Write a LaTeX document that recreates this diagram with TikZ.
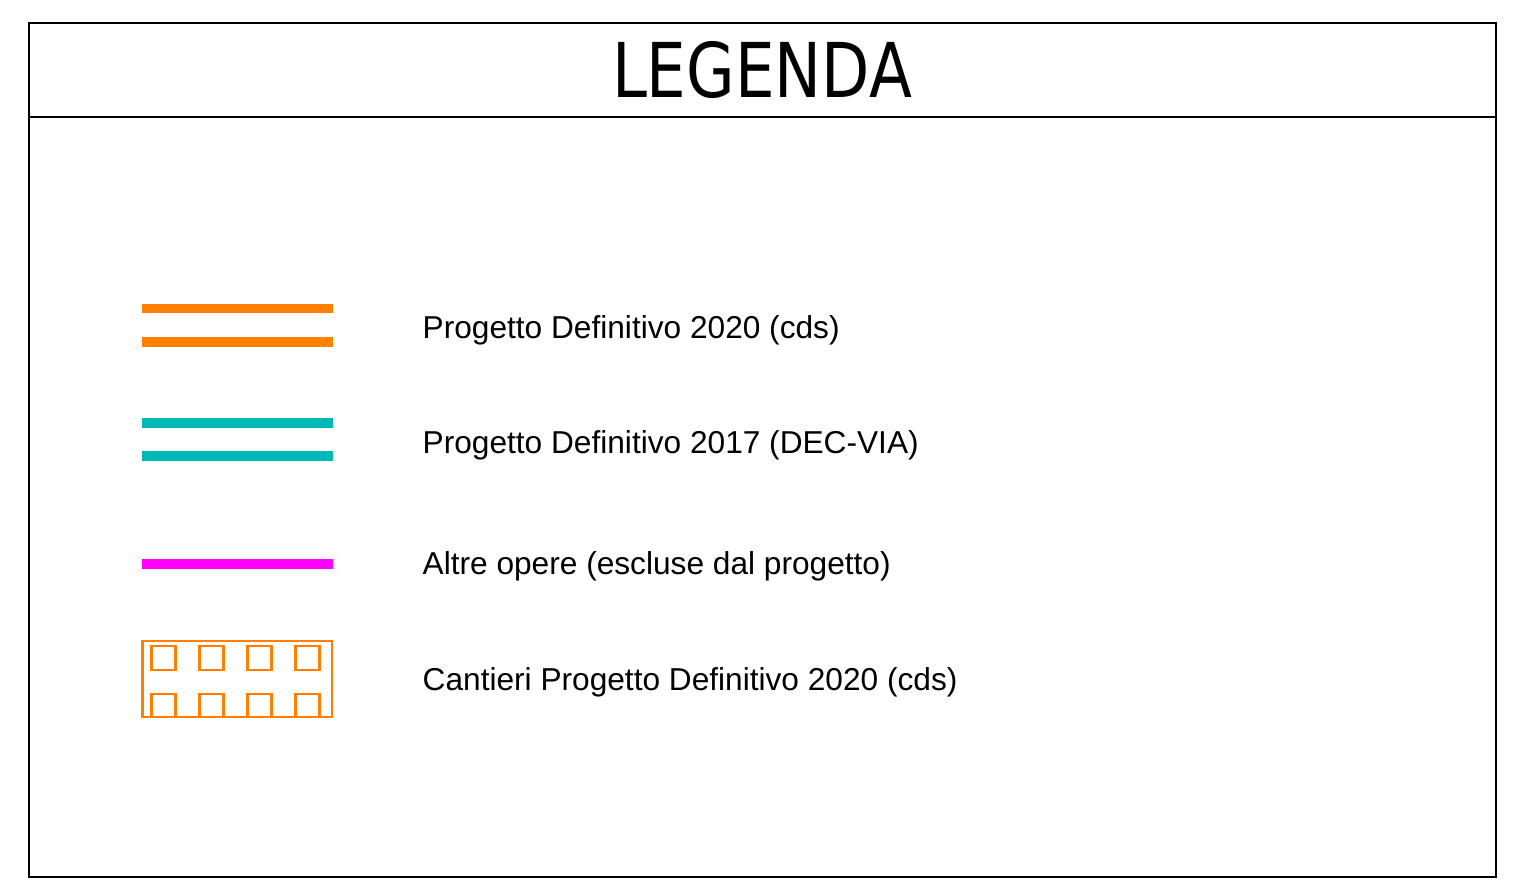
\documentclass[tikz,border=0pt]{standalone}
\usepackage{fontspec}
\setmainfont{Liberation Sans}
\newfontfamily\titlefont{DejaVu Sans}
\usetikzlibrary{positioning}
\definecolor{pd2020}{HTML}{FF7F00}
\definecolor{pd2017}{HTML}{00B8B8}
\definecolor{altre}{HTML}{FF00FF}
\tikzstyle{frame} = [draw=black, line width=0.6pt]
\tikzstyle{entry} = [anchor=base west, inner sep=0pt, font=\fontsize{9}{10}\selectfont]
\tikzstyle{band} = [line width=2.7pt]
\tikzstyle{cell} = [draw=pd2020, line width=0.7pt]

\begin{document}
\begin{tikzpicture}[x=0.01cm, y=-0.01cm]
\useasboundingbox (0,0) rectangle (1530,891);
% Frame and title
\draw [frame] (29,23) rectangle (1496,877);
\draw [line width=0.8pt] (29,117) -- (1496,117);
\node (title) at (762,70) {\titlefont\fontsize{21.5}{24}\selectfont\scalebox{0.83}[1]{LEGENDA}};

% Labels
\node (lab1) [entry] at (422,338) {Progetto Definitivo 2020 (cds)};
\node (lab2) [entry] at (422,453) {Progetto Definitivo 2017 (DEC-VIA)};
\node (lab3) [entry] at (422,574) {Altre opere (escluse dal progetto)};
\node (lab4) [entry] at (422,690) {Cantieri Progetto Definitivo 2020 (cds)};

% Symbols
\draw [band, pd2020] (142,308.5) -- (333,308.5);
\draw [band, pd2020] (142,342) -- (333,342);
\draw [band, pd2017] (142,423) -- (333,423);
\draw [band, pd2017] (142,456) -- (333,456);
\draw [band, altre] (142,564) -- (333,564);

% Cantieri
\draw [cell] (142.5,641) rectangle (332,717);
\foreach \i in {0,...,3} {
  \draw [cell] (151.5+48*\i,646) rectangle (175.5+48*\i,670);
  \draw [cell] (151.5+48*\i,717) -- (151.5+48*\i,694) -- (175.5+48*\i,694) -- (175.5+48*\i,717);
}
\end{tikzpicture}
\end{document}
